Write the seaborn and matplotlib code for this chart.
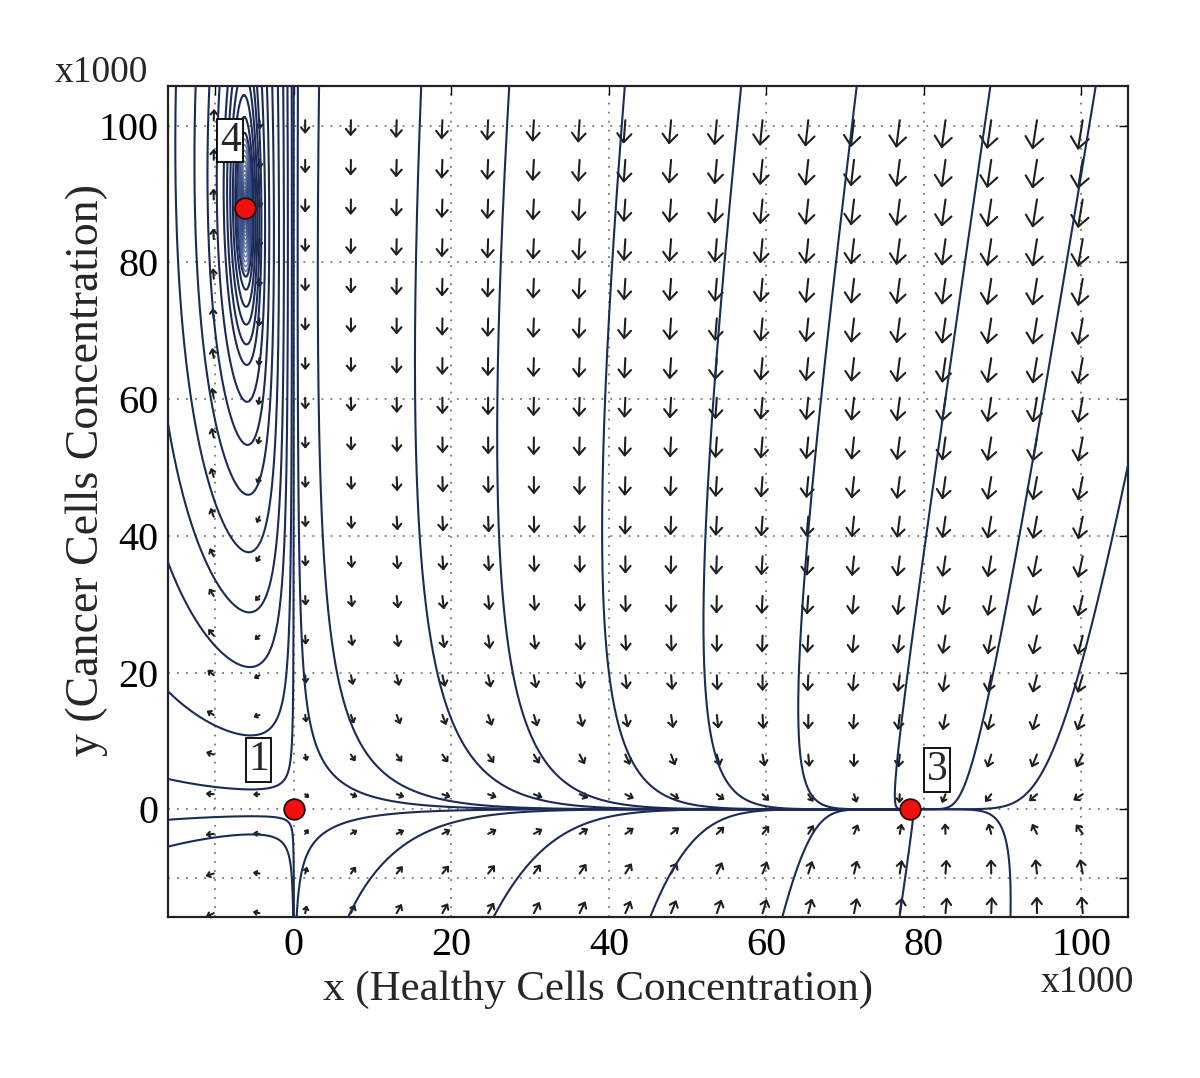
import numpy as np
import pandas as pd
import matplotlib
matplotlib.use("Agg")
import matplotlib.pyplot as plt
import seaborn as sns

# ---------------- model parameters (values in thousands of cells) -------------
r1 = 1.0        # healthy growth rate
K = 78.3        # healthy carrying capacity
a = 0.01227     # effect of cancer on healthy cells
b = 0.100       # effect of healthy cells on cancer cells
c = 0.000901    # cancer self limitation
d = 0.541       # cancer death rate

# equilibrium points shown on the chart
eq_x = [0.0, 78.3, -6.2]
eq_y = [0.0, 0.0, 88.0]
eq_labels = ["1", "3", "4"]
label_x = [-4.5, 81.7, -8.1]
label_y = [7.2, 5.75, 97.8]

# streamline seeds
top_seed_x = [0.5, 3.2, 16.2, 27.4, 42.1, 56.9, 71.6, 88.6, 102.0]
bottom_seed_x = [0.3, 6.5, 24.9, 44.9, 61.8, 76.8, 91.0]
right_seed_y = [55.0]
left_seed_y = [-1.6, -5.7]
orbit_min_y = [2.9, 10.8, 20.8, 28.8, 37.6, 46.0, 53.3, 59.6, 65.0, 68.0,
               70.9, 73.5, 76.0, 77.9]
inner_min_y = [78.7, 79.4, 80.1, 80.8, 81.5, 82.1, 82.7, 83.3, 83.9, 84.4,
               84.9, 85.4, 85.8, 86.2, 86.6, 86.9, 87.2, 87.5]

# direction-field grid
grid_x = np.linspace(-10.19, 100.2, 20)
grid_y = np.linspace(-15.2, 100.8, 21)

x_ticks = [-10, 0, 20, 40, 60, 80, 100]
x_ticklabels = ["", "0", "20", "40", "60", "80", "100"]
y_ticks = [-10, 0, 20, 40, 60, 80, 100]
y_ticklabels = ["", "0", "20", "40", "60", "80", "100"]
xlim = (-16.0, 106.0)
ylim = (-15.8, 105.8)

# ---------------- figure ----------------
sns.set_style("white")
plt.rcParams["font.family"] = ["Liberation Serif", "DejaVu Serif"]

fig = plt.figure(figsize=(12.0, 10.78), dpi=100)
ax = fig.add_axes([0.14, 0.1491, 0.8003, 0.7711])
ax.set_xlim(*xlim)
ax.set_ylim(*ylim)

PX = 960.3 / (xlim[1] - xlim[0])
PY = 831.3 / (ylim[1] - ylim[0])


def field(x, y):
    u = r1 * x * (1 - x / K) - a * x * y
    v = -y * (d + b * x + c * y)
    return u, v


def ndir(x, y, sgn):
    u, v = field(x, y)
    up, vp = u * PX, v * PY
    n = np.hypot(up, vp)
    if n < 1e-12:
        return 0.0, 0.0
    return sgn * up / n / PX, sgn * vp / n / PY


def integrate(x0, y0, sgn, h=1.0, nmax=5000, orbit=False):
    xs, ys = [x0], [y0]
    x, y = x0, y0
    cx, cy = eq_x[2], eq_y[2]
    prev = np.arctan2((y - cy) * PY, (x - cx) * PX)
    ang = 0.0
    for _ in range(nmax):
        k1 = ndir(x, y, sgn)
        k2 = ndir(x + h / 2 * k1[0], y + h / 2 * k1[1], sgn)
        k3 = ndir(x + h / 2 * k2[0], y + h / 2 * k2[1], sgn)
        k4 = ndir(x + h * k3[0], y + h * k3[1], sgn)
        x += h / 6 * (k1[0] + 2 * k2[0] + 2 * k3[0] + k4[0])
        y += h / 6 * (k1[1] + 2 * k2[1] + 2 * k3[1] + k4[1])
        xs.append(x)
        ys.append(y)
        if x < -17.5 or x > 107.5 or y < -17.5 or y > 107.5:
            break
        if not orbit:
            if any(np.hypot((x - ex) * PX, (y - ey) * PY) < 1.0
                   for ex, ey in zip(eq_x, eq_y)):
                break
        else:
            cur = np.arctan2((y - cy) * PY, (x - cx) * PX)
            dth = (cur - prev + np.pi) % (2 * np.pi) - np.pi
            ang += dth
            prev = cur
            if abs(ang) >= np.pi:
                break
    return xs, ys


def nullcline_x(y):
    return -(d + c * y) / b


rows = []
tid = 0


def add(xs, ys, group):
    global tid
    for xx, yy in zip(xs, ys):
        rows.append((tid, xx, yy, group))
    tid += 1


for x0 in top_seed_x:
    add(*integrate(x0, 106.8, +1), "main")
for x0 in bottom_seed_x:
    add(*integrate(x0, -16.8, +1), "main")
for y0 in right_seed_y:
    add(*integrate(106.8, y0, +1), "main")
for y0 in left_seed_y:
    add(*integrate(-16.8, y0, -1), "main")
for y0 in orbit_min_y:
    x0 = nullcline_x(y0)
    fx, fy = integrate(x0, y0, +1, orbit=True)
    bx, by = integrate(x0, y0, -1, orbit=True)
    add(bx[::-1] + fx[1:], by[::-1] + fy[1:], "main")
for y0 in inner_min_y:
    x0 = nullcline_x(y0)
    fx, fy = integrate(x0, y0, +1, h=0.4, nmax=8000, orbit=True)
    bx, by = integrate(x0, y0, -1, h=0.4, nmax=8000, orbit=True)
    add(bx[::-1] + fx[1:], by[::-1] + fy[1:], "inner")

traj = pd.DataFrame(rows, columns=["traj", "x", "y", "group"])

sns.lineplot(data=traj[traj.group == "main"], x="x", y="y", units="traj",
             estimator=None, sort=False, color="#1c2a58", lw=1.5, ax=ax,
             zorder=3)
sns.lineplot(data=traj[traj.group == "inner"], x="x", y="y", units="traj",
             estimator=None, sort=False, color="#2f4680", lw=1.1, alpha=0.7,
             ax=ax, zorder=3)

# direction field arrows (pixel length grows with cube root of speed)
for gx in grid_x:
    for gy in grid_y:
        u, v = field(gx, gy)
        m = np.hypot(u, v)
        if m < 1e-9:
            continue
        Lpx = 2.75 * m ** (1 / 3) + 2.0
        ux, uy = u / m, v / m
        s = Lpx / np.hypot(ux * PX, uy * PY)
        dx, dy = s * ux, s * uy
        ax.annotate("", xy=(gx + dx, gy + dy), xytext=(gx, gy),
                    arrowprops=dict(arrowstyle="->,head_length=0.36,head_width=0.3",
                                    lw=1.5, color="#1e1e1e", shrinkA=0,
                                    shrinkB=0, mutation_scale=Lpx * 0.72),
                    zorder=2)

# equilibrium points
sns.scatterplot(x=eq_x, y=eq_y, s=220, color="#f01010", edgecolor="#2a0a0a",
                linewidth=1.3, zorder=6, ax=ax)
for lx, ly, lab in zip(label_x, label_y, eq_labels):
    ax.text(lx, ly, lab, fontsize=30, ha="center", va="center", zorder=7,
            bbox=dict(boxstyle="square,pad=0.06", fc="white", ec="black",
                      lw=1.3))

# axes styling
ax.set_xticks(x_ticks)
ax.set_xticklabels(x_ticklabels)
ax.set_yticks(y_ticks)
ax.set_yticklabels(y_ticklabels)
ax.tick_params(direction="in", length=6.5, width=1.0, labelsize=29,
               top=True, right=True, pad=7, colors="black")
ax.grid(True, linestyle=(0, (1, 4)), color="#777777", lw=1.3)
for s_ in ax.spines.values():
    s_.set_color("#222222")
    s_.set_linewidth(1.6)

ax.set_xlabel("x (Healthy Cells Concentration)", fontsize=31)
ax.set_ylabel("y (Cancer Cells Concentration)", fontsize=33)
ax.xaxis.label.set_verticalalignment("center")
ax.yaxis.label.set_verticalalignment("center")
ax.xaxis.set_label_coords(0.448, -0.0875)
ax.yaxis.set_label_coords(-0.0845, 0.538)

fig.text(101 / 1200, 1 - 73 / 1078, "x1000", fontsize=27, ha="center",
         va="center")
fig.text(1087 / 1200, 1 - 983 / 1078, "x1000", fontsize=27, ha="center",
         va="center")

fig.savefig("out.png", dpi=100)
